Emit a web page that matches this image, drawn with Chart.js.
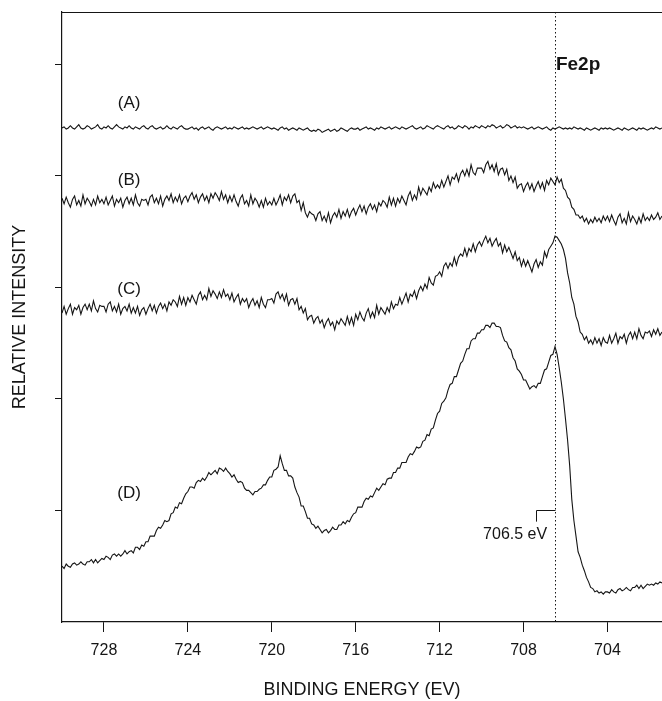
<!DOCTYPE html>
<html>
<head>
<meta charset="utf-8">
<title>Fe2p XPS</title>
<script src="https://cdn.jsdelivr.net/npm/chart.js@4.4.0/dist/chart.umd.min.js"></script>
<style>
    html, body { margin: 0; padding: 0; background: #fff; }
    #wrap { width: 662px; height: 701px; }
</style>
</head>
<body>
<div id="wrap"><canvas id="xps-chart" width="662" height="701"></canvas></div>
<script>
// Binding energy grid: 730.0 eV down to 701.4 eV in 0.1 eV steps (20 points per row below)
const energyStart = 730.0;
const energyStep = 0.1;

const energyTicks = [728, 724, 720, 716, 712, 708, 704];
const intensityTicks = [100, 200, 300, 400, 500];
const curveNames = ['(A)', '(B)', '(C)', '(D)'];
const edgeEnergy = 706.5;

// Spectrum (A)
const spectrumA = [
    443, 444, 442, 443, 445, 443, 442, 444, 446, 443, 442, 443, 445, 444, 442, 443, 444, 446, 443, 442,
    444, 443, 445, 443, 442, 444, 446, 444, 443, 442, 444, 443, 445, 443, 442, 444, 443, 442, 444, 445,
    443, 442, 444, 445, 443, 442, 443, 444, 442, 443, 445, 443, 442, 444, 443, 442, 444, 445, 443, 442,
    442, 443, 444, 442, 443, 441, 443, 444, 442, 443, 444, 442, 441, 443, 444, 443, 442, 443, 444, 442,
    443, 442, 444, 443, 442, 443, 444, 442, 443, 442, 443, 444, 443, 442, 443, 444, 442, 443, 444, 443,
    442, 443, 442, 441, 443, 444, 442, 443, 441, 442, 443, 442, 441, 443, 442, 441, 442, 443, 441, 440,
    441, 440, 442, 441, 439, 440, 441, 442, 440, 441, 442, 440, 441, 443, 442, 441, 440, 442, 443, 442,
    442, 443, 441, 442, 443, 444, 442, 443, 442, 441, 443, 442, 444, 443, 442, 443, 444, 442, 443, 444,
    443, 442, 444, 443, 442, 443, 444, 445, 443, 442, 443, 444, 442, 443, 445, 444, 443, 442, 444, 445,
    444, 443, 442, 444, 445, 443, 444, 442, 443, 445, 444, 443, 445, 444, 442, 444, 443, 445, 444, 443,
    445, 444, 443, 445, 444, 446, 445, 443, 444, 445, 443, 444, 446, 445, 443, 444, 445, 443, 444, 443,
    444, 443, 442, 443, 444, 442, 443, 444, 443, 442, 443, 444, 442, 441, 443, 442, 443, 444, 443, 442,
    443, 442, 443, 442, 444, 443, 442, 443, 442, 441, 443, 442, 441, 442, 443, 442, 441, 443, 442, 443,
    442, 443, 442, 441, 442, 443, 442, 441, 443, 442, 441, 442, 443, 442, 441, 443, 442, 443, 442, 441,
    442, 443, 442, 444, 443, 442, 443
];

// Spectrum (B)
const spectrumB = [
    380, 375, 381, 376, 372, 379, 382, 374, 378, 373, 383, 375, 380, 377, 373, 379, 374, 382, 376, 379,
    375, 381, 374, 378, 382, 373, 379, 376, 380, 372, 378, 381, 375, 380, 374, 383, 376, 373, 379, 378,
    379, 374, 381, 383, 376, 380, 375, 382, 373, 379, 382, 378, 384, 376, 381, 377, 383, 375, 380, 382,
    377, 382, 385, 379, 383, 376, 381, 384, 378, 382, 376, 384, 380, 385, 382, 378, 386, 379, 383, 376,
    382, 377, 383, 377, 373, 380, 383, 375, 378, 373, 383, 375, 380, 377, 372, 378, 372, 380, 374, 377,
    374, 380, 374, 378, 383, 374, 381, 378, 383, 376, 382, 384, 376, 378, 369, 376, 367, 363, 368, 366,
    365, 360, 366, 368, 360, 364, 359, 367, 358, 364, 367, 363, 370, 362, 368, 364, 370, 363, 368, 371,
    365, 370, 374, 368, 373, 366, 372, 375, 370, 374, 368, 376, 373, 378, 376, 372, 381, 374, 380, 373,
    380, 376, 382, 378, 374, 382, 386, 378, 383, 379, 390, 383, 389, 386, 383, 390, 386, 394, 389, 392,
    389, 396, 390, 395, 400, 392, 399, 397, 402, 395, 402, 405, 400, 406, 400, 410, 403, 401, 407, 407,
    407, 403, 410, 413, 406, 410, 404, 411, 401, 406, 407, 401, 406, 396, 400, 394, 399, 389, 392, 393,
    386, 391, 394, 388, 393, 386, 391, 395, 389, 394, 387, 396, 392, 398, 395, 392, 399, 394, 397, 389,
    387, 381, 379, 372, 370, 365, 365, 362, 364, 359, 362, 357, 361, 358, 363, 359, 362, 358, 364, 360,
    364, 359, 365, 360, 356, 363, 366, 358, 362, 357, 367, 359, 364, 361, 357, 363, 358, 366, 360, 363,
    360, 365, 361, 363, 367, 361, 364
];

// Spectrum (C)
const spectrumC = [
    277, 283, 276, 281, 285, 276, 282, 280, 284, 276, 282, 285, 280, 285, 279, 288, 281, 278, 284, 283,
    283, 278, 285, 287, 279, 283, 278, 285, 276, 281, 283, 279, 285, 277, 282, 277, 283, 275, 280, 282,
    276, 281, 285, 279, 284, 277, 283, 286, 281, 285, 279, 287, 284, 289, 287, 283, 292, 285, 291, 284,
    291, 287, 293, 289, 285, 293, 296, 289, 293, 289, 299, 292, 297, 294, 290, 296, 291, 298, 292, 294,
    289, 295, 287, 291, 294, 285, 290, 287, 290, 282, 287, 290, 284, 288, 282, 291, 285, 282, 289, 289,
    290, 286, 294, 296, 290, 294, 288, 294, 284, 289, 290, 285, 290, 280, 283, 277, 281, 271, 274, 275,
    268, 272, 274, 268, 271, 264, 269, 272, 266, 269, 262, 270, 267, 272, 269, 266, 274, 267, 273, 266,
    276, 271, 278, 273, 270, 277, 281, 273, 278, 273, 284, 276, 282, 279, 276, 282, 278, 287, 281, 285,
    284, 291, 285, 290, 295, 287, 294, 292, 297, 290, 297, 301, 297, 303, 299, 309, 304, 302, 310, 311,
    314, 310, 319, 322, 317, 322, 319, 327, 320, 327, 330, 328, 335, 328, 335, 332, 339, 332, 338, 341,
    337, 342, 346, 340, 344, 337, 341, 344, 337, 340, 331, 338, 332, 336, 331, 326, 332, 324, 327, 319,
    325, 319, 324, 319, 314, 321, 325, 318, 323, 320, 332, 327, 334, 337, 340, 346, 345, 342, 339, 334,
    326, 313, 304, 291, 285, 274, 269, 260, 258, 253, 256, 250, 253, 249, 255, 250, 254, 248, 255, 251,
    250, 257, 250, 254, 259, 250, 256, 254, 258, 250, 257, 260, 254, 260, 254, 263, 257, 254, 260, 259,
    261, 256, 262, 258, 263, 257, 260
];

// Spectrum (D)
const spectrumD = [
    50, 48, 52, 50, 49, 52, 53, 51, 52, 54, 52, 51, 54, 54, 56, 53, 56, 53, 55, 57,
    56, 59, 58, 56, 60, 61, 59, 61, 59, 61, 64, 61, 63, 64, 62, 67, 67, 65, 69, 68,
    72, 72, 77, 77, 77, 82, 85, 84, 87, 91, 90, 91, 97, 98, 103, 102, 107, 106, 111, 115,
    117, 121, 121, 120, 125, 127, 126, 129, 127, 130, 134, 132, 134, 136, 133, 138, 137, 135, 138, 135,
    133, 130, 132, 128, 125, 126, 125, 120, 118, 118, 116, 114, 117, 117, 119, 120, 123, 123, 127, 130,
    130, 136, 137, 139, 149, 142, 136, 136, 131, 131, 129, 121, 116, 112, 104, 104, 99, 93, 93, 88,
    87, 84, 86, 83, 80, 82, 83, 80, 82, 85, 83, 83, 87, 87, 90, 88, 91, 90, 94, 97,
    98, 103, 103, 103, 108, 111, 110, 113, 112, 116, 120, 118, 121, 124, 123, 128, 129, 129, 134, 134,
    138, 138, 143, 143, 143, 148, 151, 150, 153, 157, 156, 157, 162, 163, 168, 167, 173, 174, 181, 187,
    189, 196, 198, 201, 208, 213, 214, 220, 220, 226, 232, 234, 240, 245, 245, 252, 254, 254, 259, 259,
    262, 262, 266, 266, 264, 268, 268, 265, 265, 264, 257, 252, 251, 246, 244, 237, 234, 227, 225, 222,
    217, 217, 213, 209, 211, 212, 210, 214, 214, 220, 226, 227, 233, 239, 240, 247, 240, 228, 215, 200,
    182, 163, 140, 110, 91, 77, 63, 58, 51, 46, 40, 36, 31, 30, 27, 28, 26, 27, 25, 27,
    27, 26, 29, 27, 26, 29, 30, 28, 29, 31, 29, 28, 31, 31, 33, 30, 33, 30, 32, 34,
    33, 34, 33, 35, 34, 36, 35
];

const FONT = 'Arial, "Liberation Sans", sans-serif';
const INK = '#151515';

function toPoints(values) {
    return values.map((v, i) => ({ x: +(energyStart - i * energyStep).toFixed(1), y: v }));
}

function traceDataset(label, values) {
    return {
        label: label,
        data: toPoints(values),
        borderColor: INK,
        borderWidth: 1.1,
        pointRadius: 0,
        tension: 0,
        fill: false
    };
}

/**
 * Curve labels, the Fe2p tag, the dotted edge marker and the 706.5 eV bracket
 */
const spectrumNotes = {
    id: 'spectrumNotes',
    afterDatasetsDraw(chart) {
        const { ctx, chartArea, scales: { x, y } } = chart;
        ctx.save();

        // top frame line
        ctx.strokeStyle = INK;
        ctx.lineWidth = 1.2;
        ctx.beginPath();
        ctx.moveTo(chartArea.left, chartArea.top + 0.5);
        ctx.lineTo(chartArea.right, chartArea.top + 0.5);
        ctx.stroke();

        // dotted line through the metallic Fe edge
        const xe = Math.round(x.getPixelForValue(edgeEnergy)) + 0.5;
        ctx.lineWidth = 1;
        ctx.setLineDash([1.5, 2.5]);
        ctx.beginPath();
        ctx.moveTo(xe, chartArea.top);
        ctx.lineTo(xe, chartArea.bottom);
        ctx.stroke();
        ctx.setLineDash([]);

        // bracket above the 706.5 eV label
        const bx = Math.round(x.getPixelForValue(707.4)) + 0.5;
        const by = Math.round(y.getPixelForValue(100)) + 0.5;
        ctx.beginPath();
        ctx.moveTo(bx, y.getPixelForValue(90));
        ctx.lineTo(bx, by);
        ctx.lineTo(xe, by);
        ctx.stroke();

        ctx.fillStyle = INK;
        ctx.textAlign = 'center';
        ctx.textBaseline = 'middle';

        ctx.font = '17px ' + FONT;
        const labelLevels = [465, 396, 298, 115];
        curveNames.forEach((name, i) => {
            ctx.fillText(name, x.getPixelForValue(726.8), y.getPixelForValue(labelLevels[i]));
        });

        ctx.font = '16px ' + FONT;
        ctx.fillText(edgeEnergy.toFixed(1) + ' eV', x.getPixelForValue(708.4), y.getPixelForValue(78));

        ctx.font = 'bold 19px ' + FONT;
        ctx.fillText('Fe2p', x.getPixelForValue(705.4), y.getPixelForValue(500));

        ctx.restore();
    }
};

document.addEventListener('DOMContentLoaded', function () {
    const canvas = document.getElementById('xps-chart');

    new Chart(canvas, {
        type: 'line',
        data: {
            datasets: [
                traceDataset(curveNames[0], spectrumA),
                traceDataset(curveNames[1], spectrumB),
                traceDataset(curveNames[2], spectrumC),
                traceDataset(curveNames[3], spectrumD)
            ]
        },
        options: {
            responsive: false,
            animation: false,
            devicePixelRatio: 1,
            layout: { padding: { top: 12, right: 0, bottom: 0, left: 0 } },
            plugins: {
                legend: { display: false },
                tooltip: { enabled: false }
            },
            scales: {
                x: {
                    type: 'linear',
                    reverse: true,
                    min: 701.4,
                    max: 730,
                    afterFit(scale) { scale.height = 79; },
                    afterBuildTicks(scale) {
                        scale.ticks = energyTicks.map(v => ({ value: v }));
                    },
                    border: { display: true, color: INK, width: 1.2 },
                    grid: {
                        drawOnChartArea: false,
                        drawTicks: true,
                        tickLength: 10,
                        color: INK,
                        lineWidth: 1
                    },
                    ticks: {
                        color: INK,
                        padding: 9,
                        maxRotation: 0,
                        font: { family: FONT, size: 16 },
                        callback: v => String(v)
                    },
                    title: {
                        display: true,
                        text: 'BINDING ENERGY (EV)',
                        color: INK,
                        padding: { top: 0, bottom: 0 },
                        font: { family: FONT, size: 18 }
                    }
                },
                y: {
                    type: 'linear',
                    min: 0,
                    max: 547,
                    afterFit(scale) { scale.width = 62; },
                    afterBuildTicks(scale) {
                        scale.ticks = intensityTicks.map(v => ({ value: v }));
                    },
                    border: { display: true, color: INK, width: 1.2 },
                    grid: {
                        drawOnChartArea: false,
                        drawTicks: true,
                        tickLength: 7,
                        color: INK,
                        lineWidth: 1
                    },
                    ticks: { display: false },
                    title: {
                        display: true,
                        text: 'RELATIVE INTENSITY',
                        color: INK,
                        padding: { top: 9, bottom: 0 },
                        font: { family: FONT, size: 18 }
                    }
                }
            }
        },
        plugins: [spectrumNotes]
    });
});
</script>
</body>
</html>
